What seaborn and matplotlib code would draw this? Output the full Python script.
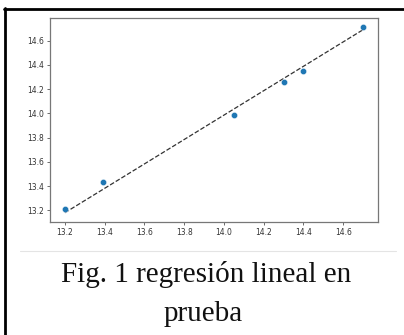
import matplotlib
matplotlib.use("Agg")
import matplotlib.pyplot as plt
import seaborn as sns
import pandas as pd
from matplotlib.lines import Line2D

# valores reales vs predichos
y_test = [13.20, 13.39, 14.05, 14.30, 14.40, 14.70]
y_pred = [13.21, 13.43, 13.99, 14.26, 14.35, 14.71]
# recta de referencia
line_x = [13.20, 14.70]
line_y = [13.18, 14.69]
x_ticks = [13.2, 13.4, 13.6, 13.8, 14.0, 14.2, 14.4, 14.6]
y_ticks = [13.2, 13.4, 13.6, 13.8, 14.0, 14.2, 14.4, 14.6]
caption_1 = "Fig. 1 regresión lineal en"
caption_2 = "prueba"

W, H = 404, 335
sns.set_style("ticks")
fig = plt.figure(figsize=(W / 100, H / 100), dpi=100)
fig.patch.set_facecolor("white")

ax = fig.add_axes([50 / W, 1 - 222 / H, 328 / W, 204 / H])
df = pd.DataFrame({"real": y_test, "pred": y_pred})
sns.lineplot(x=line_x, y=line_y, ax=ax, color="#333333", linestyle="--",
             linewidth=0.9, zorder=1)
sns.scatterplot(data=df, x="real", y="pred", ax=ax, color="#1f77b4",
                s=20, edgecolor="white", linewidth=0.3, zorder=2)

ax.set_xticks(x_ticks)
ax.set_yticks(y_ticks)
ax.set_xticklabels([f"{t:.1f}" for t in x_ticks])
ax.set_yticklabels([f"{t:.1f}" for t in y_ticks])
ax.tick_params(labelsize=5.5, length=2, width=0.5, colors="#333333", pad=2)
ax.set_xlabel("")
ax.set_ylabel("")
for sp in ax.spines.values():
    sp.set_visible(True)
    sp.set_color("#777777")
    sp.set_linewidth(0.9)

# marco y separador
fig.add_artist(Line2D([4 / W, 1], [1 - 9 / H, 1 - 9 / H], color="black",
                      linewidth=2, transform=fig.transFigure))
fig.add_artist(Line2D([5 / W, 5 / W], [0, 1 - 8 / H], color="black",
                      linewidth=2, transform=fig.transFigure))
fig.add_artist(Line2D([20 / W, 396 / W], [1 - 250.5 / H, 1 - 250.5 / H],
                      color="#e4e4e4", linewidth=0.8, transform=fig.transFigure))

fig.text(206 / W, 1 - 281.5 / H, caption_1, ha="center", va="baseline",
         fontsize=21, family="Liberation Serif", color="#111111")
fig.text(203 / W, 1 - 321 / H, caption_2, ha="center", va="baseline",
         fontsize=21, family="Liberation Serif", color="#111111")

fig.savefig("out.png", dpi=100, facecolor="white")
